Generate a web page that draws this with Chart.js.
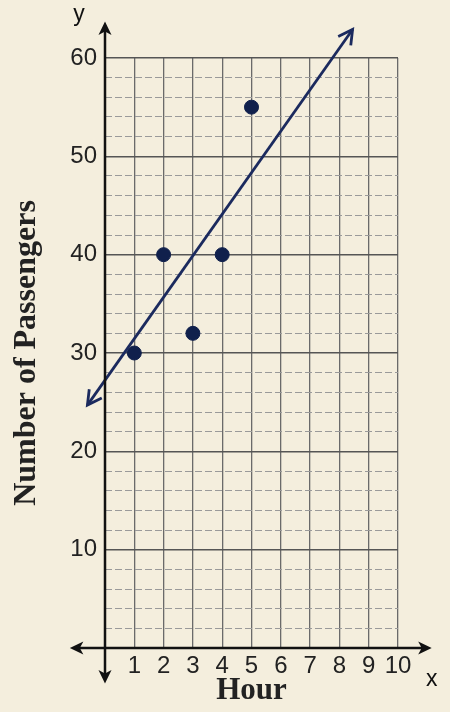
<!DOCTYPE html>
<html>
<head>
<meta charset="utf-8">
<script src="https://cdn.jsdelivr.net/npm/chart.js@4"></script>
<style>
  html, body { margin: 0; padding: 0; background: #f4eedd; }
  canvas { display: block; }
</style>
</head>
<body>
<canvas id="grafico" width="450" height="712"></canvas>
<script>
// Datos: horas y pasajeros
const horas = [1, 2, 3, 4, 5];
const pasajeros = [30, 40, 32, 40, 55];
// Recta de ajuste (extremos de la flecha)
const rectaX = [-0.6, 8.45];
const rectaY = [24.7, 62.9];
// Ejes
const xMin = 0, xMax = 10, yMin = 0, yMax = 60;
const ejeX = [-1.2, 11.15];
const ejeY = [-3.6, 63.7];

const tinta = "#1b2a5e";

// fondo, ejes con flechas y letras x / y
const ejesPlugin = {
  id: "ejes",
  beforeDraw(chart) {
    const c = chart.ctx;
    c.save();
    c.fillStyle = "#f4eedd";
    c.fillRect(0, 0, chart.width, chart.height);
    c.restore();
  },
  afterDraw(chart) {
    const c = chart.ctx;
    const sx = chart.scales.x, sy = chart.scales.y;
    const x0 = sx.getPixelForValue(0), y0 = sy.getPixelForValue(0);
    const xa = sx.getPixelForValue(ejeX[0]), xb = sx.getPixelForValue(ejeX[1]);
    const ya = sy.getPixelForValue(ejeY[1]), yb = sy.getPixelForValue(ejeY[0]);
    c.save();
    c.strokeStyle = "#111";
    c.fillStyle = "#111";
    c.lineWidth = 2.5;
    c.beginPath();
    c.moveTo(xa + 8, y0); c.lineTo(xb - 8, y0);
    c.moveTo(x0, ya + 8); c.lineTo(x0, yb - 8);
    c.stroke();
    const punta = (px, py, ang) => {
      c.beginPath();
      c.moveTo(px, py);
      c.lineTo(px - 15 * Math.cos(ang - 0.45), py - 15 * Math.sin(ang - 0.45));
      c.lineTo(px - 10 * Math.cos(ang), py - 10 * Math.sin(ang));
      c.lineTo(px - 15 * Math.cos(ang + 0.45), py - 15 * Math.sin(ang + 0.45));
      c.closePath();
      c.fill();
    };
    punta(xa, y0, Math.PI);
    punta(xb, y0, 0);
    punta(x0, ya, -Math.PI / 2);
    punta(x0, yb, Math.PI / 2);

    c.font = "23px 'Liberation Sans', Arial, sans-serif";
    c.textAlign = "center";
    c.textBaseline = "middle";
    c.fillText("y", x0 - 26, ya - 7);
    c.fillText("x", xb, y0 + 32);

    // flechas abiertas de la recta
    const pts = chart.getDatasetMeta(0).data;
    if (pts.length === 2) {
      const [p, q] = pts;
      const ang = Math.atan2(q.y - p.y, q.x - p.x);
      c.strokeStyle = tinta;
      c.lineWidth = 2.8;
      const abierta = (px, py, a) => {
        c.beginPath();
        c.moveTo(px - 16 * Math.cos(a - 0.5), py - 16 * Math.sin(a - 0.5));
        c.lineTo(px, py);
        c.lineTo(px - 16 * Math.cos(a + 0.5), py - 16 * Math.sin(a + 0.5));
        c.stroke();
      };
      abierta(q.x, q.y, ang);
      abierta(p.x, p.y, ang + Math.PI);
    }
    c.restore();
  }
};

new Chart(document.getElementById("grafico"), {
  type: "scatter",
  data: {
    datasets: [
      {
        type: "line",
        label: "Recta",
        data: rectaX.map((x, i) => ({ x: x, y: rectaY[i] })),
        borderColor: tinta,
        borderWidth: 2.8,
        pointRadius: 0,
        fill: false,
        clip: false
      },
      {
        label: "Pasajeros",
        data: horas.map((h, i) => ({ x: h, y: pasajeros[i] })),
        backgroundColor: "#10204c",
        borderColor: "#10204c",
        pointRadius: 7
      }
    ]
  },
  options: {
    responsive: false,
    animation: false,
    events: [],
    layout: { padding: { top: 58, right: 52, left: 0, bottom: 0 } },
    plugins: { legend: { display: false }, tooltip: { enabled: false } },
    scales: {
      x: {
        type: "linear",
        min: xMin, max: xMax,
        afterFit(s) { s.height = 64; },
        ticks: {
          stepSize: 1, autoSkip: false, maxRotation: 0, padding: 4,
          color: "#222",
          font: { family: "'Liberation Sans', Arial, sans-serif", size: 24 },
          callback: v => (v === 0 ? "" : String(v))
        },
        grid: { drawTicks: false, color: "#6a6a6a", lineWidth: 1.3 },
        border: { display: false },
        title: {
          display: true, text: "Hour", color: "#222",
          padding: { top: 0, bottom: 2 },
          font: { family: "'Liberation Serif', 'Times New Roman', serif", size: 31, weight: "bold" }
        }
      },
      y: {
        min: yMin, max: yMax,
        afterFit(s) { s.width = 105; },
        ticks: {
          stepSize: 2, autoSkip: false, padding: 8,
          color: "#222",
          font: { family: "'Liberation Sans', Arial, sans-serif", size: 24 },
          callback: v => (v !== 0 && v % 10 === 0 ? String(v) : "")
        },
        grid: {
          drawTicks: false,
          color: ctx => (ctx.tick && ctx.tick.value % 10 === 0 ? "#555" : "#9a9a9a"),
          lineWidth: ctx => (ctx.tick && ctx.tick.value % 10 === 0 ? 1.6 : 1)
        },
        border: {
          display: false,
          dash: ctx => (ctx.tick && ctx.tick.value % 10 === 0 ? [] : [7, 3])
        },
        title: {
          display: true, text: "Number of Passengers", color: "#222",
          padding: { top: 8, bottom: 0 },
          font: { family: "'Liberation Serif', 'Times New Roman', serif", size: 32, weight: "bold" }
        }
      }
    }
  },
  plugins: [ejesPlugin]
});
</script>
</body>
</html>
